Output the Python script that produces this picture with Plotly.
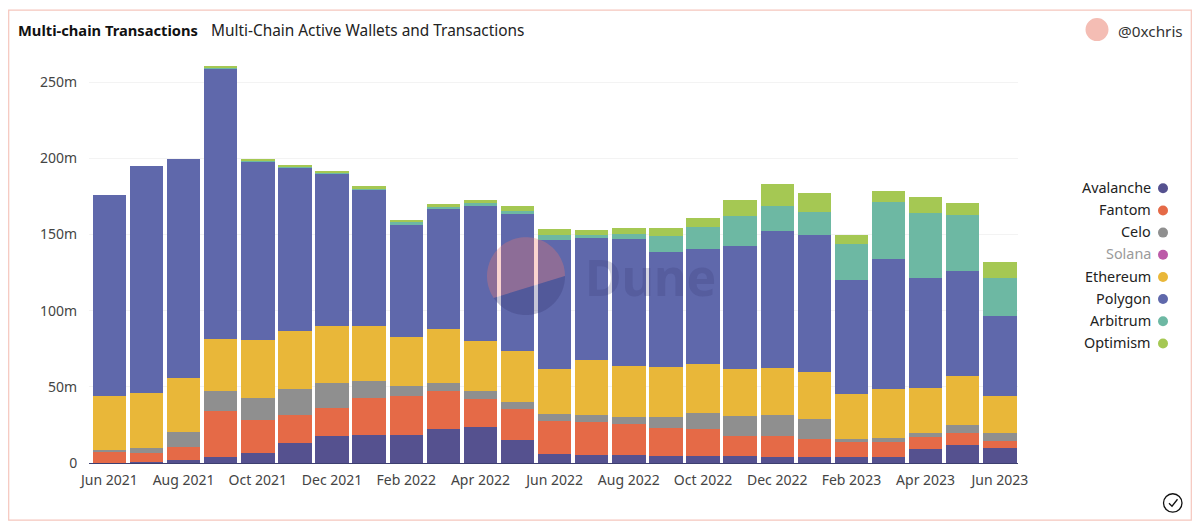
import numpy as np
import plotly.graph_objects as go

# page keeps its 8px body margin, so the figure sits at (8, 8) and is 1184x513
WIDTH = 1184
HEIGHT = 513
OFFSET = 8
LEFT, RIGHT, TOP, BOTTOM = 89, 1018, 59.5, 463.2

months = ['Jun 2021', 'Jul 2021', 'Aug 2021', 'Sep 2021', 'Oct 2021', 'Nov 2021', 'Dec 2021',
          'Jan 2022', 'Feb 2022', 'Mar 2022', 'Apr 2022', 'May 2022', 'Jun 2022', 'Jul 2022',
          'Aug 2022', 'Sep 2022', 'Oct 2022', 'Nov 2022', 'Dec 2022', 'Jan 2023', 'Feb 2023',
          'Mar 2023', 'Apr 2023', 'May 2023', 'Jun 2023']
y_ticks = [0, 50e6, 100e6, 150e6, 200e6, 250e6]
y_labels = ['0', '50m', '100m', '150m', '200m', '250m']

# millions of transactions, stacked bottom to top
avalanche = [0.3, 0.5, 1.7, 4.2, 6.8, 12.9, 17.7, 18.1, 18.6, 22, 23.4, 14.9, 6.1, 5.2, 5, 4.4, 4.6, 4.4, 3.7, 3.9, 3.9, 3.9, 9, 12, 9.6]
fantom = [7.1, 5.8, 8.8, 30.1, 21.2, 18.6, 18.3, 24.9, 25.3, 25.2, 18.6, 20.3, 21.2, 21.7, 20.6, 18.5, 17.7, 13.1, 13.8, 11.8, 10.1, 9.9, 8.3, 8, 4.6]
celo = [1.3, 3.5, 9.6, 12.9, 15, 17.2, 16.4, 11, 6.8, 5.2, 5.4, 4.6, 4.6, 4.8, 4.3, 7.5, 10.3, 13.3, 13.7, 13.3, 1.7, 2.8, 2.7, 4.7, 5.7]
solana = [0] * 25
ethereum = [35, 36.1, 36, 34.5, 38, 37.8, 37.6, 35.8, 31.9, 35.4, 32.6, 33.8, 29.9, 35.8, 33.7, 32.7, 32.7, 30.6, 31.3, 30.9, 29.3, 32.1, 29.4, 32.3, 23.8]
polygon = [132.2, 149.1, 143.4, 177.3, 117.2, 107.5, 99.9, 89.6, 74.1, 79, 89.1, 89.6, 84.4, 80, 83.5, 75.5, 75, 81.3, 89.6, 89.6, 75, 85.5, 71.9, 69.3, 52.7]
arbitrum = [0, 0, 0, 1, 0.5, 0.6, 0.7, 0.8, 1.3, 1.1, 1.3, 2.2, 3.5, 2.4, 3.3, 10.6, 14.4, 19.5, 16.6, 15.3, 23.6, 37.3, 42.8, 36.7, 25.3]
optimism = [0, 0, 0, 0.9, 0.6, 0.9, 1.3, 1.6, 1.7, 1.9, 2.4, 3.3, 3.9, 3.3, 4.1, 5.1, 6.3, 10.4, 14.2, 12.6, 6.1, 7, 10.3, 7.7, 10.1]

names = ['Avalanche', 'Fantom', 'Celo', 'Solana', 'Ethereum', 'Polygon', 'Arbitrum', 'Optimism']
series = [avalanche, fantom, celo, solana, ethereum, polygon, arbitrum, optimism]
colors = ['#55518f', '#e56a47', '#8f8f8f', '#bc5aa8', '#e9b739', '#5f68ab', '#6db8a3', '#a5c853']
FONT = 'Noto Sans'


def px(x):
    return (x - LEFT) / (RIGHT - LEFT)


def py(y):
    return (BOTTOM - y) / (BOTTOM - TOP)


def paper_shape(kind, x0, y0, x1, y1, **kw):
    return dict(type=kind, xref='paper', yref='paper', x0=px(x0), x1=px(x1), y0=py(y0), y1=py(y1), **kw)


def paper_text(text, x, y, anchor='left', size=14, color='#222222', **kw):
    return dict(text=text, xref='paper', yref='paper', x=px(x), y=py(y), xanchor=anchor, yanchor='middle',
                showarrow=False, borderpad=0, font=dict(family=FONT, size=size, color=color), **kw)


def arc_path(cx, cy, r, start, end):
    angles = np.radians(np.linspace(start, end, 60))
    pts = [(px(cx + r * np.cos(a)), py(cy + r * np.sin(a))) for a in angles]
    return 'M' + 'L'.join(f'{a:.5f},{b:.5f}' for a, b in pts) + 'Z'


fig = go.Figure()
for name, values, color in zip(names, series, colors):
    fig.add_trace(go.Bar(x=months, y=[v * 1e6 for v in values], name=name, marker=dict(color=color, line_width=0)))

shapes = [paper_shape('rect', 8.7, 9.5, 1191.3, 520.4, line=dict(color='#f5c6bd', width=1.2), layer='below'),
          paper_shape('circle', 1085.5, 17.5, 1108.5, 40.5, fillcolor='#f4bdb4', line_width=0),
          paper_shape('circle', 1163.5, 494, 1182, 512.5, line=dict(color='#111111', width=1.3)),
          dict(type='path', xref='paper', yref='paper', line=dict(color='#111111', width=1.3),
               path=f'M{px(1169)},{py(503.5)}L{px(1172)},{py(506.5)}L{px(1177.5)},{py(499.5)}'),
          # Dune watermark
          dict(type='path', xref='paper', yref='paper', path=arc_path(526, 276, 39, 146, 360),
               fillcolor='rgba(240,120,110,0.32)', line_width=0),
          dict(type='path', xref='paper', yref='paper', path=arc_path(526, 276, 39, 0, 146),
               fillcolor='rgba(50,50,110,0.28)', line_width=0)]

annotations = [paper_text('<b>Multi-chain Transactions</b>', 17, 29.3, size=14.7, color='#111111'),
               paper_text('Multi-Chain Active Wallets and Transactions', 209.5, 30, size=15.4, color='#222222'),
               paper_text('@0xchris', 1117, 30, size=15.3, color='#333333'),
               paper_text('<b>Dune</b>', 584, 277, size=50, color='rgba(50,50,110,0.2)')]

# legend has its dot on the right of the label, so it is built by hand
for i, (name, color) in enumerate(zip(names, colors)):
    y = 188 + i * 22.2
    text_color = '#9a9a9a' if name == 'Solana' else '#222222'
    annotations.append(paper_text(name, 1152, y - 0.8, anchor='right', size=14.4, color=text_color))
    shapes.append(paper_shape('circle', 1158, y - 5, 1168, y + 5, fillcolor=color, line_width=0))

fig.update_layout(
    width=WIDTH,
    height=HEIGHT,
    barmode='stack',
    bargap=0.1,
    showlegend=False,
    plot_bgcolor='white',
    paper_bgcolor='white',
    margin=dict(l=LEFT - OFFSET, r=WIDTH + OFFSET - RIGHT, t=TOP - OFFSET, b=HEIGHT + OFFSET - BOTTOM, pad=0),
    font=dict(family=FONT, size=14, color='#444444'),
    shapes=shapes,
    annotations=annotations,
)
fig.update_xaxes(type='category', categoryorder='array', categoryarray=months, range=[-0.55, 24.49],
                 tickmode='array', tickvals=months[::2], ticktext=months[::2], tickangle=0,
                 showgrid=False, showline=True, linecolor='#3d3f70', linewidth=1,
                 ticks='outside', ticklen=4, tickcolor='rgba(0,0,0,0)')
fig.update_yaxes(range=[0, (BOTTOM - TOP) / 1.5256 * 1e6], tickmode='array', tickvals=y_ticks, ticktext=y_labels,
                 showgrid=True, gridcolor='#f3f3f3', gridwidth=1, zeroline=False, showline=False,
                 ticks='outside', ticklen=8, tickcolor='rgba(0,0,0,0)')

fig.write_html("out.html")
